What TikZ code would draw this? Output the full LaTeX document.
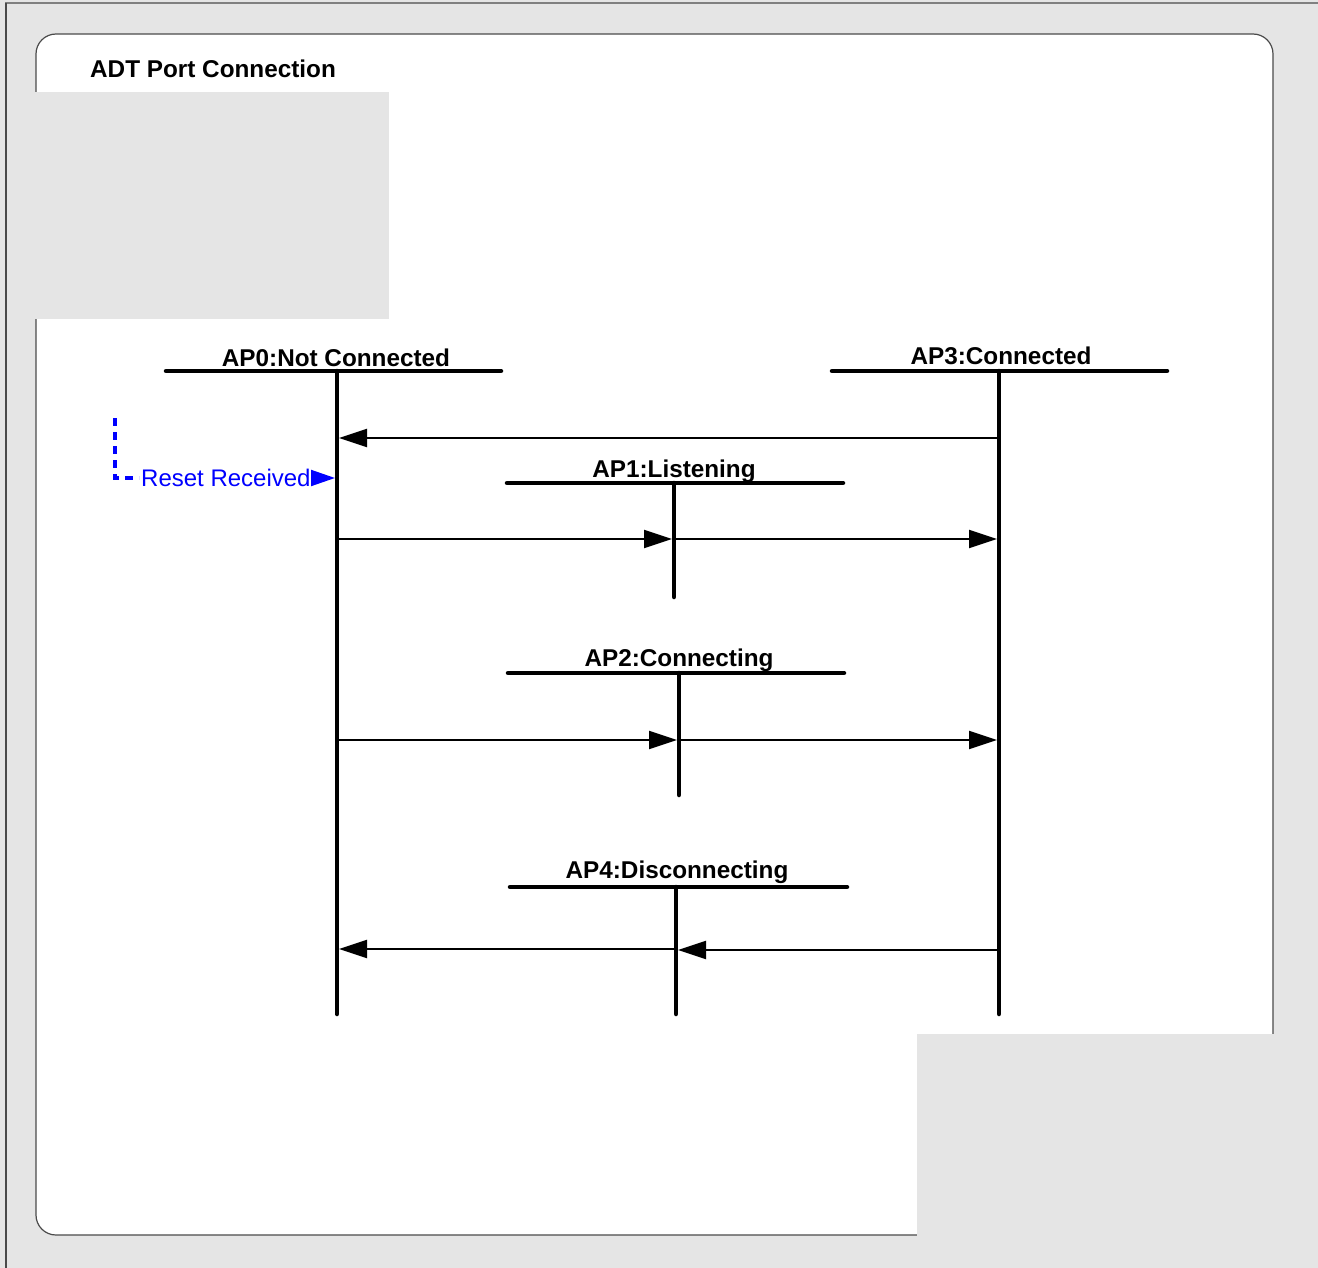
\documentclass[tikz,border=0pt]{standalone}
\usepackage{fontspec}
\setmainfont{Liberation Sans}
\usetikzlibrary{arrows.meta}
\definecolor{bggray}{HTML}{E5E5E5}
\definecolor{framegray}{HTML}{808080}
\definecolor{boxline}{HTML}{4A4A4A}
\definecolor{resetblue}{HTML}{0000FF}
\tikzset{
  lifeline/.style={line width=4.5pt, line cap=round},
  headerbar/.style={line width=4.5pt, line cap=round},
  msg/.style={line width=2pt, shorten >=2pt, -{Triangle[length=28pt,width=18pt]}},
  lbl/.style={font=\fontsize{24.3}{28}\selectfont\bfseries, anchor=base, inner sep=0pt},
  resettext/.style={font=\fontsize{24}{28}\selectfont, text=resetblue, anchor=base west, inner sep=0pt},
  resetline/.style={draw=resetblue, line width=3.5pt, dash pattern=on 8pt off 6pt},
  resetarrow/.style={draw=resetblue, fill=resetblue, line width=2pt, -{Triangle[length=24pt,width=16pt]}}
}
\begin{document}
\begin{tikzpicture}[x=1pt,y=-1pt]
\useasboundingbox (0,0) rectangle (1318,1268);
% background and frame
\fill[bggray] (0,0) rectangle (1318,1268);
\draw[framegray, line width=1.5pt] (5,3) -- (1318,3);
\draw[boxline, line width=1.2pt] (6,3) -- (6,1268);
\draw[boxline, fill=white, line width=1.2pt, rounded corners=20pt] (36,34) rectangle (1273,1235);
\fill[bggray] (30,92) rectangle (389,319);
\fill[bggray] (917,1034) rectangle (1280,1242);
% title
\node[font=\fontsize{24.3}{28}\selectfont\bfseries, anchor=base west, inner sep=0pt] (title) at (90,78) {ADT Port Connection};

% lifeline coordinates
\coordinate (a0L) at (166,371); \coordinate (a0R) at (501,371);
\coordinate (a0T) at (337,371); \coordinate (a0B) at (337,1014);
\coordinate (a3L) at (832,371); \coordinate (a3R) at (1167,371);
\coordinate (a3T) at (999,371); \coordinate (a3B) at (999,1014);
\coordinate (a1L) at (507,483); \coordinate (a1R) at (843,483);
\coordinate (a1T) at (674,483); \coordinate (a1B) at (674,597);
\coordinate (a2L) at (508,673); \coordinate (a2R) at (844,673);
\coordinate (a2T) at (679,673); \coordinate (a2B) at (679,795);
\coordinate (a4L) at (510,887); \coordinate (a4R) at (847,887);
\coordinate (a4T) at (676,887); \coordinate (a4B) at (676,1014);

% labels
\node[lbl] (t0) at (336,366) {AP0:Not Connected};
\node[lbl] (t3) at (1001,364) {AP3:Connected};
\node[lbl] (t1) at (674,477) {AP1:Listening};
\node[lbl] (t2) at (679,666) {AP2:Connecting};
\node[lbl] (t4) at (677,878) {AP4:Disconnecting};

% header bars and lifelines
\draw[headerbar] (a0L) -- (a0R); \draw[lifeline] (a0T) -- (a0B);
\draw[headerbar] (a3L) -- (a3R); \draw[lifeline] (a3T) -- (a3B);
\draw[headerbar] (a1L) -- (a1R); \draw[lifeline] (a1T) -- (a1B);
\draw[headerbar] (a2L) -- (a2R); \draw[lifeline] (a2T) -- (a2B);
\draw[headerbar] (a4L) -- (a4R); \draw[lifeline] (a4T) -- (a4B);

% message points
\coordinate (m1a) at (999,438); \coordinate (m1b) at (337,438);
\coordinate (m2a) at (337,539); \coordinate (m2b) at (674,539); \coordinate (m2c) at (999,539);
\coordinate (m3a) at (337,740); \coordinate (m3b) at (679,740); \coordinate (m3c) at (999,740);
\coordinate (m4a) at (999,950); \coordinate (m4b) at (676,950);
\coordinate (m4c) at (676,949); \coordinate (m4d) at (337,949);

\draw[msg] (m1a) -- (m1b);
\draw[msg] (m2a) -- (m2b);
\draw[msg] (m2b) -- (m2c);
\draw[msg] (m3a) -- (m3b);
\draw[msg] (m3b) -- (m3c);
\draw[msg] (m4a) -- (m4b);
\draw[msg] (m4c) -- (m4d);

% reset received
\coordinate (rtop) at (115,418);
\coordinate (rcorner) at (115,478);
\coordinate (rend) at (139,478);
\coordinate (rhit) at (335,478);
\node[resettext] (reset) at (141,486) {Reset Received};
\draw[resetline] (rtop) -- (rcorner) -- (rend);
\draw[resetarrow] (reset.east |- rcorner) -- (rhit);
\end{tikzpicture}
\end{document}
